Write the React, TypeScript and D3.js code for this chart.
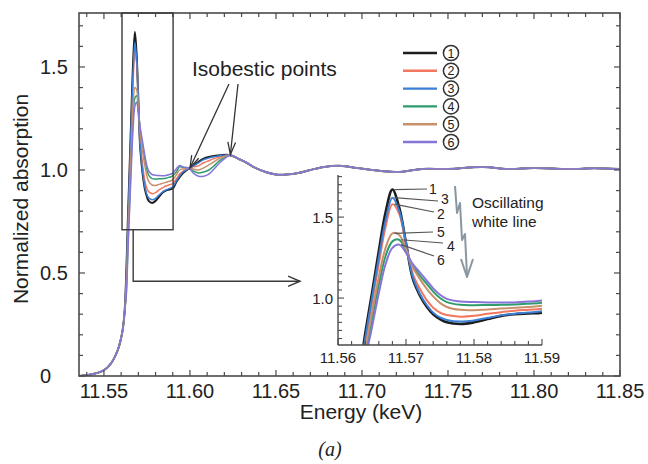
import React from "react";
import * as d3 from "d3";

const W = 648;
const H = 464;

// ---------- data ----------
const seriesNames = ["1", "2", "3", "4", "5", "6"];
const seriesColors = ["#1d1d1d", "#f2775f", "#3a7fd5", "#2f9c6c", "#c8916b", "#8675d8"];

// shared pre-edge (keV, normalized absorption)
const edgeEnergy = [11.535, 11.54, 11.545, 11.55, 11.554, 11.558, 11.56, 11.561, 11.562];
const edgeValue = [0.0, 0.004, 0.012, 0.028, 0.06, 0.125, 0.185, 0.23, 0.31];

// white-line region, per series
const wlEnergy = [
  11.563, 11.564, 11.565, 11.566, 11.567, 11.568, 11.569, 11.57, 11.571, 11.572, 11.573,
  11.574, 11.575, 11.576, 11.578, 11.58, 11.582, 11.584, 11.586, 11.588, 11.59, 11.592,
  11.594, 11.596, 11.5995, 11.602, 11.605, 11.608, 11.611, 11.614, 11.618, 11.6235,
];
const wl1 = [0.5, 0.78, 1.03, 1.29, 1.53, 1.67, 1.56, 1.34, 1.12, 1.02, 0.95, 0.9, 0.87, 0.85, 0.84, 0.85, 0.87, 0.89, 0.9, 0.905, 0.91, 0.94, 0.965, 0.985, 1.008, 1.022, 1.04, 1.055, 1.063, 1.068, 1.072, 1.072];
const wl2 = [0.46, 0.72, 0.97, 1.21, 1.44, 1.58, 1.52, 1.33, 1.15, 1.06, 0.99, 0.94, 0.91, 0.895, 0.885, 0.89, 0.903, 0.913, 0.922, 0.928, 0.934, 0.955, 0.98, 0.995, 1.008, 1.015, 1.02, 1.035, 1.045, 1.055, 1.065, 1.072];
const wl3 = [0.48, 0.75, 1.0, 1.25, 1.48, 1.62, 1.54, 1.34, 1.13, 1.03, 0.96, 0.91, 0.88, 0.865, 0.855, 0.862, 0.878, 0.893, 0.903, 0.91, 0.918, 0.945, 0.97, 0.99, 1.008, 1.02, 1.035, 1.05, 1.058, 1.064, 1.07, 1.072];
const wl4 = [0.41, 0.65, 0.87, 1.08, 1.26, 1.35, 1.36, 1.29, 1.2, 1.14, 1.09, 1.04, 1.0, 0.975, 0.958, 0.956, 0.957, 0.958, 0.96, 0.965, 0.971, 0.99, 1.015, 1.012, 1.008, 0.995, 0.985, 0.99, 1.0, 1.02, 1.05, 1.072];
const wl5 = [0.43, 0.68, 0.91, 1.13, 1.31, 1.4, 1.39, 1.3, 1.19, 1.12, 1.06, 1.01, 0.97, 0.945, 0.927, 0.925, 0.93, 0.935, 0.94, 0.945, 0.952, 0.975, 1.0, 1.005, 1.008, 1.005, 1.0, 1.01, 1.025, 1.04, 1.06, 1.072];
const wl6 = [0.39, 0.62, 0.82, 1.03, 1.21, 1.31, 1.33, 1.28, 1.21, 1.16, 1.11, 1.06, 1.02, 0.995, 0.978, 0.975, 0.973, 0.972, 0.973, 0.978, 0.985, 1.005, 1.022, 1.015, 1.008, 0.985, 0.97, 0.97, 0.98, 1.005, 1.04, 1.072];
const wlSeries = [wl1, wl2, wl3, wl4, wl5, wl6];

// shared EXAFS tail
const tailEnergy = [11.628, 11.633, 11.638, 11.644, 11.65, 11.656, 11.663, 11.67, 11.678, 11.687, 11.697, 11.706, 11.72, 11.735, 11.75, 11.77, 11.785, 11.8, 11.82, 11.835, 11.85];
const tailValue = [1.055, 1.035, 1.01, 0.99, 0.978, 0.978, 0.985, 1.0, 1.015, 1.02, 1.01, 1.0, 0.99, 1.005, 1.005, 1.015, 1.005, 1.01, 1.005, 1.008, 1.005];

const xTickLabelsMain = ["11.55", "11.60", "11.65", "11.70", "11.75", "11.80", "11.85"];
const yTickLabelsMain = ["0", "0.5", "1.0", "1.5"];
const xTickLabelsInset = ["11.56", "11.57", "11.58", "11.59"];
const yTickLabelsInset = ["1.0", "1.5"];
const insetLabelOrder = ["1", "3", "2", "5", "4", "6"];

// ---------- build ----------
type Pt = { e: number; v: number };
const series: Pt[][] = wlSeries.map((wl) => [
  ...edgeEnergy.map((e, i) => ({ e, v: edgeValue[i] })),
  ...wlEnergy.map((e, i) => ({ e, v: wl[i] })),
  ...tailEnergy.map((e, i) => ({ e, v: tailValue[i] })),
]);

export default function App() {
  const x = d3.scaleLinear().domain([11.5355, 11.85]).range([79, 620]);
  const y = d3.scaleLinear().domain([0, 1.762]).range([376, 13]);
  const xi = d3.scaleLinear().domain([11.56, 11.59]).range([338, 542]);
  const yi = d3.scaleLinear().domain([0.71, 1.76]).range([345, 175]);

  const curve = d3.curveCatmullRom.alpha(0.5);
  const lineMain = d3.line<Pt>().x((d) => x(d.e)).y((d) => y(d.v)).curve(curve);
  const lineInset = d3.line<Pt>().x((d) => xi(d.e)).y((d) => yi(d.v)).curve(curve);

  const [x0, x1] = x.range();
  const [y0, y1] = y.range(); // y0 bottom, y1 top
  const font = "'Liberation Sans', Arial, Helvetica, sans-serif";
  const frameColor = "#4a4a4a";

  const xMinor = d3.range(1154, 1186).map((i) => ({ v: i / 100, major: i % 5 === 0 }));
  const yMinor = d3.range(0, 18).map((i) => ({ v: i / 10, major: i % 5 === 0 }));
  const xMajor = xTickLabelsMain.map((s) => +s);
  const yMajor = yTickLabelsMain.map((s) => +s);

  const xiMinor = d3.range(5780, 5796).map((i) => ({ v: i / 500, major: i % 5 === 0 }));
  const yiMinor = d3.range(15, 36).map((i) => ({ v: i / 20, major: i % 10 === 0 }));

  const drawOrder = [0, 1, 2, 3, 4, 5];

  // arrowhead helper
  const arrowHead = (fx: number, fy: number, tx: number, ty: number, len = 11, ang = 0.38) => {
    const a = Math.atan2(ty - fy, tx - fx);
    const p1 = [tx - len * Math.cos(a - ang), ty - len * Math.sin(a - ang)];
    const p2 = [tx - len * Math.cos(a + ang), ty - len * Math.sin(a + ang)];
    return `M${p1[0]},${p1[1]}L${tx},${ty}L${p2[0]},${p2[1]}`;
  };

  // isobestic points
  const iso1 = { x: x(11.6), y: y(1.01) };
  const iso2 = { x: x(11.6235), y: y(1.075) };
  const a1From = { x: 229, y: 84 };
  const a2From = { x: 238, y: 84 };

  // zoom rect + connector
  const rx0 = x(11.5605);
  const rx1 = x(11.5902);
  const ryTop = y(1.762);
  const ryBot = y(0.71);
  const cx = x(11.567);
  const cy = y(0.46);
  const cxEnd = x(11.664);

  // inset peak labels
  const peaks = wlSeries.map((wl) => {
    const idx = d3.maxIndex(wl);
    return { e: wlEnergy[idx], v: wl[idx] };
  });
  const labelPos: Record<string, { lx: number; ly: number; ex: number; ey: number }> = {
    "1": { lx: 433, ly: 189, ex: 427, ey: 189 },
    "3": { lx: 445, ly: 199, ex: 438, ey: 201 },
    "2": { lx: 441, ly: 214, ex: 434, ey: 212 },
    "5": { lx: 441, ly: 232, ex: 433, ey: 232 },
    "4": { lx: 451, ly: 246, ex: 443, ey: 243 },
    "6": { lx: 441, ly: 260, ex: 434, ey: 256 },
  };

  // legend
  const legX0 = 403;
  const legX1 = 437;
  const legCx = 451;
  const legY = (i: number) => 53 + i * 17.8;

  return (
    <svg width={W} height={H} viewBox={`0 0 ${W} ${H}`} style={{ display: "block", position: "absolute", left: 0, top: 0, background: "#fff" }}>
      <defs>
        <clipPath id="clipMain">
          <rect x={x0} y={y1} width={x1 - x0} height={y0 - y1} />
        </clipPath>
        <clipPath id="clipInset">
          <rect x={338} y={175} width={204} height={170} />
        </clipPath>
      </defs>
      <rect x={0} y={0} width={W} height={H} fill="#fff" />

      {/* main curves */}
      <g clipPath="url(#clipMain)" fill="none">
        {drawOrder.map((k) => (
          <path key={k} d={lineMain(series[k]) || ""} stroke={seriesColors[k]} strokeWidth={k === 0 ? 2 : 1.5} strokeLinejoin="round" />
        ))}
      </g>

      {/* frame */}
      <rect x={x0} y={y1} width={x1 - x0} height={y0 - y1} fill="none" stroke={frameColor} strokeWidth={1.6} />
      {xMinor.map((t, i) => {
        const px = x(t.v);
        const L = t.major ? 6 : 4;
        return (
          <g key={"xt" + i} stroke={frameColor} strokeWidth={1.2}>
            <line x1={px} x2={px} y1={y0} y2={y0 - L} />
            <line x1={px} x2={px} y1={y1} y2={y1 + L} />
          </g>
        );
      })}
      {yMinor.map((t, i) => {
        const py = y(t.v);
        const L = t.major ? 6 : 4;
        return (
          <g key={"yt" + i} stroke={frameColor} strokeWidth={1.2}>
            <line x1={x0} x2={x0 + L} y1={py} y2={py} />
            <line x1={x1} x2={x1 - L} y1={py} y2={py} />
          </g>
        );
      })}
      {xMajor.map((v, i) => (
        <text key={"xl" + i} x={x(v)} y={398} textAnchor="middle" fontFamily={font} fontSize={20} fill="#222">
          {xTickLabelsMain[i]}
        </text>
      ))}
      {yMajor.map((v, i) => (
        <text key={"yl" + i} x={40} y={y(v)} dominantBaseline="central" textAnchor="start" fontFamily={font} fontSize={20} fill="#222">
          {yTickLabelsMain[i]}
        </text>
      ))}
      <text x={361} y={419} textAnchor="middle" fontFamily={font} fontSize={21} fill="#222">
        Energy (keV)
      </text>
      <text transform={`translate(28,199) rotate(-90)`} textAnchor="middle" fontFamily={font} fontSize={21} fill="#222">
        Normalized absorption
      </text>
      <text x={330} y={456} textAnchor="middle" fontFamily="'Liberation Serif', 'DejaVu Serif', serif" fontSize={20} fontStyle="italic" fill="#222">
        (a)
      </text>

      {/* zoom rectangle and connector */}
      <rect x={rx0} y={ryTop} width={rx1 - rx0} height={ryBot - ryTop} fill="none" stroke="#3a3a3a" strokeWidth={1.4} />
      <path d={`M${cx},${ryBot}L${cx},${cy}L${cxEnd},${cy}`} fill="none" stroke="#3a3a3a" strokeWidth={1.4} />
      <path d={arrowHead(cx, cy, cxEnd, cy, 13, 0.4)} fill="none" stroke="#3a3a3a" strokeWidth={1.4} />

      {/* isobestic annotation */}
      <text x={192} y={76} fontFamily={font} fontSize={21} fill="#222">
        Isobestic points
      </text>
      <g stroke="#333" strokeWidth={1.3} fill="none">
        <line x1={a1From.x} y1={a1From.y} x2={iso1.x} y2={iso1.y} />
        <path d={arrowHead(a1From.x, a1From.y, iso1.x, iso1.y, 13, 0.3)} />
        <line x1={a2From.x} y1={a2From.y} x2={iso2.x} y2={iso2.y} />
        <path d={arrowHead(a2From.x, a2From.y, iso2.x, iso2.y, 13, 0.3)} />
      </g>

      {/* legend */}
      {seriesNames.map((n, i) => (
        <g key={"lg" + i}>
          <line x1={legX0} x2={legX1} y1={legY(i)} y2={legY(i)} stroke={seriesColors[i]} strokeWidth={2.4} />
          <circle cx={legCx} cy={legY(i)} r={7.6} fill="#fff" stroke="#333" strokeWidth={1.5} />
          <text x={legCx} y={legY(i) + 0.5} textAnchor="middle" dominantBaseline="central" fontFamily={font} fontSize={12.5} fill="#222">
            {n}
          </text>
        </g>
      ))}

      {/* inset */}
      <g clipPath="url(#clipInset)" fill="none">
        {drawOrder.map((k) => (
          <path key={"i" + k} d={lineInset(series[k]) || ""} stroke={seriesColors[k]} strokeWidth={k === 0 ? 2.6 : 2} strokeLinejoin="round" />
        ))}
      </g>
      <g stroke={frameColor} strokeWidth={1.4}>
        <line x1={338} x2={338} y1={175} y2={345} />
        <line x1={338} x2={542} y1={345} y2={345} />
        {xiMinor.map((t, i) => (
          <line key={"xit" + i} x1={xi(t.v)} x2={xi(t.v)} y1={345} y2={345 - (t.major ? 6 : 4)} strokeWidth={1.1} />
        ))}
        {yiMinor.map((t, i) => (
          <line key={"yit" + i} x1={338} x2={338 + (t.major ? 6 : 4)} y1={yi(t.v)} y2={yi(t.v)} strokeWidth={1.1} />
        ))}
      </g>
      {xTickLabelsInset.map((s, i) => (
        <text key={"xil" + i} x={xi(+s)} y={363} textAnchor="middle" fontFamily={font} fontSize={15} fill="#222">
          {s}
        </text>
      ))}
      {yTickLabelsInset.map((s, i) => (
        <text key={"yil" + i} x={333} y={yi(+s)} textAnchor="end" dominantBaseline="central" fontFamily={font} fontSize={15} fill="#222">
          {s}
        </text>
      ))}

      {/* inset peak labels */}
      {insetLabelOrder.map((n) => {
        const k = seriesNames.indexOf(n);
        const p = peaks[k];
        const lp = labelPos[n];
        return (
          <g key={"pl" + n}>
            <line x1={xi(p.e) + 2} y1={yi(p.v)} x2={lp.ex} y2={lp.ey} stroke="#555" strokeWidth={1.2} />
            <text x={lp.lx} y={lp.ly} dominantBaseline="central" textAnchor="middle" fontFamily={font} fontSize={14} fill="#222">
              {n}
            </text>
          </g>
        );
      })}

      {/* oscillating arrow */}
      <g fill="none" stroke="#8b97a0" strokeWidth={2} strokeLinejoin="round">
        <polyline points="455,186 457,213 460,203 462,240 465,234 467,276" />
        <path d="M461,259L467,277L473,259" />
      </g>
      <text x={472} y={208} fontFamily={font} fontSize={15.5} fill="#222">
        Oscillating
      </text>
      <text x={472} y={227} fontFamily={font} fontSize={15.5} fill="#222">
        white line
      </text>
    </svg>
  );
}
